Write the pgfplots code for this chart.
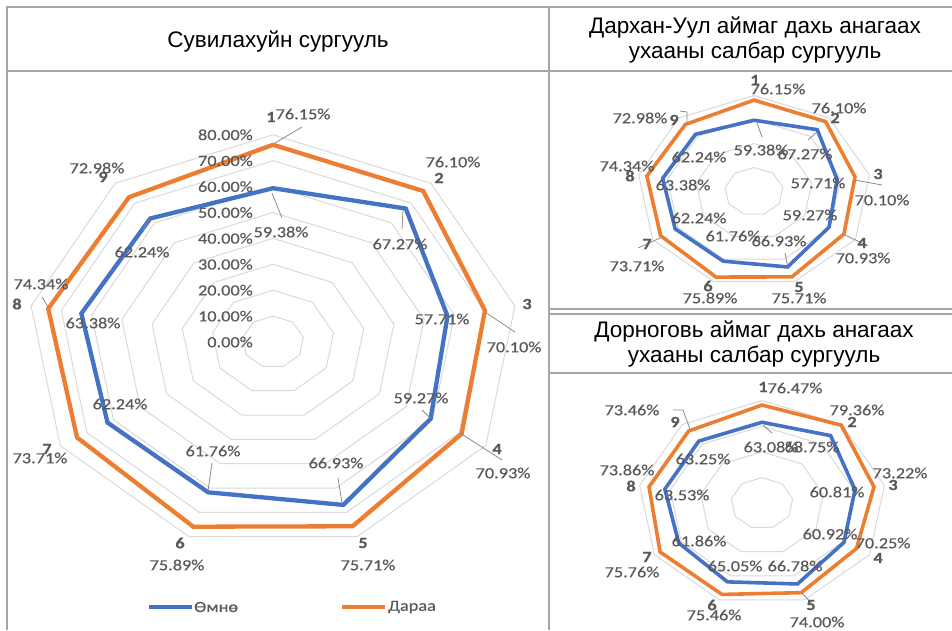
\documentclass[border=0pt]{standalone}
\usepackage{fontspec}
\usepackage{pgfplots}
\pgfplotsset{compat=1.18}
\setmainfont{Liberation Sans}
\newfontfamily\lf[FakeStretch=1.18, FakeBold=0.35]{Carlito}
\definecolor{cblue}{HTML}{4472C4}
\definecolor{corange}{HTML}{ED7D31}
\definecolor{cgrid}{HTML}{D9D9D9}
\definecolor{ctxt}{HTML}{595959}
\definecolor{cframe}{HTML}{A6A6A6}
\pgfplotsset{
  radar/.style={hide axis, clip=false, anchor=south west, data cs=polar,
    xmin=-90, xmax=90, ymin=-90, ymax=90},
  ring/.style={cgrid, line width=1pt, mark=none, line join=miter},
  ser/.style={#1, mark=none, line join=miter},
}
\newcommand\ring[1]{\addplot[ring] coordinates {(90,#1) (50,#1) (10,#1) (-30,#1) (-70,#1) (-110,#1) (-150,#1) (170,#1) (130,#1)} -- cycle;}
\begin{document}
\begin{tikzpicture}
% ---------- left chart ----------
\begin{axis}[radar, x=3.07pt, y=2.59pt, at={(-3.3pt,-575.1pt)}]
\pgfplotsinvokeforeach{10,20,30,40,50,60,70,80}{\ring{#1}}
\addplot[ser=cblue, line width=4.3pt] coordinates {(90,59.38) (50,67.27) (10,57.71) (-30,59.27) (-70,66.93) (-110,61.76) (-150,62.24) (170,63.38) (130,62.24)} -- cycle;
\addplot[ser=corange, line width=4.3pt] coordinates {(90,76.15) (50,76.10) (10,70.10) (-30,70.93) (-70,75.71) (-110,75.89) (-150,73.71) (170,74.34) (130,72.98)} -- cycle;
\end{axis}
% ---------- right top chart ----------
\begin{axis}[radar, x=1.463pt, y=1.20pt, at={(622.33pt,-299.5pt)}]
\pgfplotsinvokeforeach{20,40,60,80}{\ring{#1}}
\addplot[ser=cblue, line width=3.6pt] coordinates {(90,59.38) (50,67.27) (10,57.71) (-30,59.27) (-70,66.93) (-110,61.76) (-150,62.24) (170,63.38) (130,62.24)} -- cycle;
\addplot[ser=corange, line width=3.6pt] coordinates {(90,76.15) (50,76.10) (10,70.10) (-30,70.93) (-70,75.71) (-110,75.89) (-150,73.71) (170,74.34) (130,72.98)} -- cycle;
\end{axis}
% ---------- right bottom chart ----------
\begin{axis}[radar, x=1.553pt, y=1.285pt, at={(622.23pt,-618.95pt)}]
\pgfplotsinvokeforeach{20,40,60,80}{\ring{#1}}
\addplot[ser=cblue, line width=3.6pt] coordinates {(90,63.08) (50,68.75) (10,60.81) (-30,60.92) (-70,66.78) (-110,65.05) (-150,61.86) (170,63.53) (130,63.25)} -- cycle;
\addplot[ser=corange, line width=3.6pt] coordinates {(90,76.47) (50,79.36) (10,73.22) (-30,70.25) (-70,74.00) (-110,75.46) (-150,75.76) (170,73.86) (130,73.46)} -- cycle;
\end{axis}
\begin{scope}[x=1pt, y=-1pt]
% frame
\begin{scope}[cframe, line width=2pt]
\draw (6,6.5) -- (952,6.5);
\draw (7,6.5) -- (7,630);
\draw (549,6.5) -- (549,630);
\draw (7,71) -- (952,71);
\draw (549,308.5) -- (952,308.5);
\draw (549,314) -- (952,314);
\draw (549,373) -- (952,373);
\end{scope}
% titles
\begin{scope}[every node/.style={anchor=base, inner sep=0pt, font=\fontsize{22.5}{27}\selectfont}]
\node at (278,47) {Сувилахуйн сургууль};
\node at (755,33.5) {Дархан-Уул аймаг дахь анагаах};
\node at (755,58.5) {ухааны салбар сургууль};
\node at (754,337) {Дорноговь аймаг дахь анагаах};
\node at (754,362) {ухааны салбар сургууль};
\end{scope}
% leader lines
\begin{scope}[ctxt!70, line width=0.8pt]
\draw (275,143) -- (302,127);
\draw (272,193) -- (282,218);
\draw (403,210) -- (402,229);
\draw (150,218) -- (143,230);
\draw (485,312) -- (515,332);
\draw (430,418) -- (422,410);
\draw (460,433) -- (502,460);
\draw (342,503) -- (338,478);
\draw (208,491) -- (212,463);
\draw (48,307) -- (42,297);
\draw (687,123) -- (687,112) -- (680,111);
\draw (855,180) -- (882,185);
\draw (845,235) -- (868,246);
\draw (660,238) -- (638,248);
\draw (757,123) -- (762,137);
\draw (817,132) -- (808,140);
\draw (788,268) -- (785,253);
\draw (690,429) -- (683,410) -- (673,410);
\draw (802,593) -- (813,605);
\draw (763,425) -- (772,433);
\end{scope}
% value labels
\begin{scope}[every node/.style={inner sep=0pt, text=ctxt, font=\lf\fontsize{15.5}{16}\selectfont}]
% left axis tick labels
\node[anchor=east] at (253,342) {0.00\%};
\node[anchor=east] at (253,316.1) {10.00\%};
\node[anchor=east] at (253,290.2) {20.00\%};
\node[anchor=east] at (253,264.3) {30.00\%};
\node[anchor=east] at (253,238.4) {40.00\%};
\node[anchor=east] at (253,212.5) {50.00\%};
\node[anchor=east] at (253,186.6) {60.00\%};
\node[anchor=east] at (253,160.7) {70.00\%};
\node[anchor=east] at (253,134.8) {80.00\%};
% left categories
\node[font=\lf\bfseries\fontsize{15.5}{16}\selectfont] at (271,117) {1};
\node[font=\lf\bfseries\fontsize{15.5}{16}\selectfont] at (439,178) {2};
\node[font=\lf\bfseries\fontsize{15.5}{16}\selectfont] at (527,304) {3};
\node[font=\lf\bfseries\fontsize{15.5}{16}\selectfont] at (497,449) {4};
\node[font=\lf\bfseries\fontsize{15.5}{16}\selectfont] at (363,543) {5};
\node[font=\lf\bfseries\fontsize{15.5}{16}\selectfont] at (180,543) {6};
\node[font=\lf\bfseries\fontsize{15.5}{16}\selectfont] at (47,449) {7};
\node[font=\lf\bfseries\fontsize{15.5}{16}\selectfont] at (17,304) {8};
\node[font=\lf\bfseries\fontsize{15.5}{16}\selectfont] at (103,177) {9};
% left orange values
\node at (303,114) {76.15\%};
\node at (453,162) {76.10\%};
\node at (514,347) {70.10\%};
\node at (503,473) {70.93\%};
\node at (368,565) {75.71\%};
\node at (177,565) {75.89\%};
\node at (40,458) {73.71\%};
\node at (41,284) {74.34\%};
\node at (97,168) {72.98\%};
% left blue values
\node at (281,232) {59.38\%};
\node at (400,244) {67.27\%};
\node at (442,319) {57.71\%};
\node at (421,398) {59.27\%};
\node at (336,463) {66.93\%};
\node at (213,451) {61.76\%};
\node at (120,404) {62.24\%};
\node at (93,323) {63.38\%};
\node at (142,252) {62.24\%};
% right top categories
\node[font=\lf\bfseries\fontsize{15.5}{16}\selectfont] at (755,80) {1};
\node[font=\lf\bfseries\fontsize{15.5}{16}\selectfont] at (835,118) {2};
\node[font=\lf\bfseries\fontsize{15.5}{16}\selectfont] at (878,174) {3};
\node[font=\lf\bfseries\fontsize{15.5}{16}\selectfont] at (862,243) {4};
\node[font=\lf\bfseries\fontsize{15.5}{16}\selectfont] at (799,287) {5};
\node[font=\lf\bfseries\fontsize{15.5}{16}\selectfont] at (708,286) {6};
\node[font=\lf\bfseries\fontsize{15.5}{16}\selectfont] at (647,244) {7};
\node[font=\lf\bfseries\fontsize{15.5}{16}\selectfont] at (630,176) {8};
\node[font=\lf\bfseries\fontsize{15.5}{16}\selectfont] at (674,120) {9};
% right top orange values
\node at (778,89) {76.15\%};
\node at (839,108) {76.10\%};
\node at (882,200) {70.10\%};
\node at (863,258) {70.93\%};
\node at (799,298) {75.71\%};
\node at (710,298) {75.89\%};
\node at (637,266) {73.71\%};
\node at (627,166) {74.34\%};
\node at (640,118) {72.98\%};
% right top blue values
\node at (761,150) {59.38\%};
\node at (805,154) {67.27\%};
\node at (818,183) {57.71\%};
\node at (810,215) {59.27\%};
\node at (779,241) {66.93\%};
\node at (733,236) {61.76\%};
\node at (699,218) {62.24\%};
\node at (683,185) {63.38\%};
\node at (699,157) {62.24\%};
% right bottom categories
\node[font=\lf\bfseries\fontsize{15.5}{16}\selectfont] at (763,387) {1};
\node[font=\lf\bfseries\fontsize{15.5}{16}\selectfont] at (852,422) {2};
\node[font=\lf\bfseries\fontsize{15.5}{16}\selectfont] at (893,485) {3};
\node[font=\lf\bfseries\fontsize{15.5}{16}\selectfont] at (878,558) {4};
\node[font=\lf\bfseries\fontsize{15.5}{16}\selectfont] at (811,605) {5};
\node[font=\lf\bfseries\fontsize{15.5}{16}\selectfont] at (712,605) {6};
\node[font=\lf\bfseries\fontsize{15.5}{16}\selectfont] at (647,557) {7};
\node[font=\lf\bfseries\fontsize{15.5}{16}\selectfont] at (631,486) {8};
\node[font=\lf\bfseries\fontsize{15.5}{16}\selectfont] at (675,422) {9};
% right bottom orange values
\node at (795,388) {76.47\%};
\node at (857,410) {79.36\%};
\node at (900,473) {73.22\%};
\node at (883,543) {70.25\%};
\node at (817,622) {74.00\%};
\node at (714,615) {75.46\%};
\node at (632,572) {75.76\%};
\node at (627,470) {73.86\%};
\node at (632,410) {73.46\%};
% right bottom blue values
\node at (771,447) {63.08\%};
\node at (812,447) {68.75\%};
\node at (837,492) {60.81\%};
\node at (830,534) {60.92\%};
\node at (795,566) {66.78\%};
\node at (735,566) {65.05\%};
\node at (699,541) {61.86\%};
\node at (682,495) {63.53\%};
\node at (703,459) {63.25\%};
% legend
\draw[cblue, line width=4.5pt] (149,607) -- (192,607);
\node[anchor=west] at (194,607) {Өмнө};
\draw[corange, line width=4.5pt] (342,607) -- (385,607);
\node[anchor=west] at (388,607) {Дараа};
\end{scope}
\end{scope}
\pgfresetboundingbox
\path[use as bounding box] (0pt,0pt) rectangle (952pt,-630pt);
\end{tikzpicture}
\end{document}
